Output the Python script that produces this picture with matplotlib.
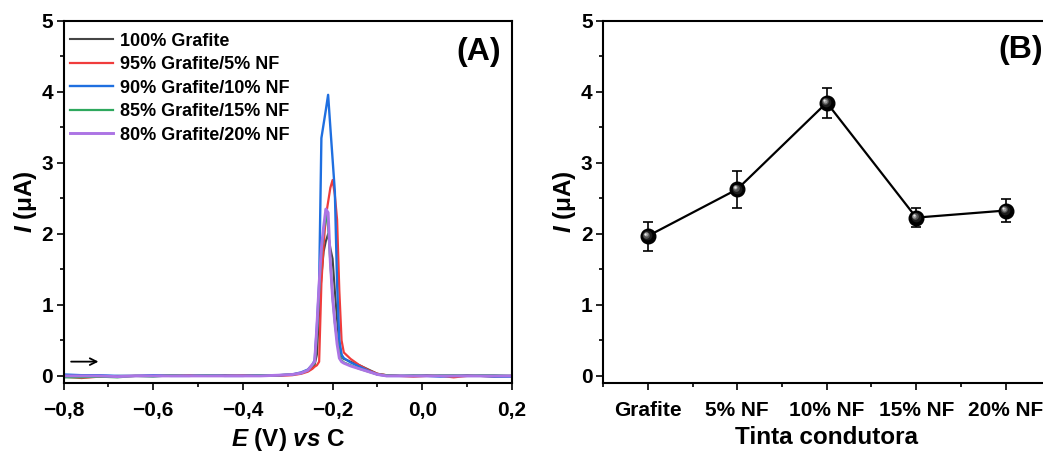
import matplotlib
matplotlib.use("Agg")
import matplotlib.pyplot as plt
from matplotlib.ticker import MultipleLocator, FixedLocator, FuncFormatter
from matplotlib.transforms import ScaledTranslation

plt.rcParams['font.family'] = ['Liberation Sans', 'DejaVu Sans']
plt.rcParams['font.weight'] = 'bold'
plt.rcParams['mathtext.fontset'] = 'custom'
plt.rcParams['mathtext.it'] = 'Liberation Sans:italic:bold'
plt.rcParams['mathtext.rm'] = 'Liberation Sans:bold'
plt.rcParams['mathtext.bf'] = 'Liberation Sans:bold'

# ---------------- data: panel A (DPV curves) ----------------
E_V = [-0.80, -0.76, -0.72, -0.68, -0.64, -0.60, -0.56, -0.52, -0.48, -0.44,
       -0.40, -0.36, -0.32,
       -0.29, -0.27, -0.255, -0.245, -0.24, -0.235, -0.23, -0.225, -0.22,
       -0.215, -0.21, -0.205, -0.20, -0.195, -0.19, -0.185, -0.18, -0.175,
       -0.16, -0.14, -0.12, -0.10,
       -0.08, -0.05, -0.02, 0.01, 0.04, 0.07, 0.10, 0.13, 0.16, 0.20]

I_100 = [0.01, 0.00, -0.01, 0.00, 0.00, 0.00, 0.01, 0.00, 0.00, 0.01, 0.00, 0.01, 0.01,
         0.02, 0.04, 0.07, 0.11, 0.16, 0.30, 0.90, 1.40, 1.75, 1.90, 2.00, 1.80, 1.65,
         1.20, 0.80, 0.45, 0.28, 0.24, 0.20, 0.15, 0.09, 0.03,
         0.01, 0.00, 0.00, 0.01, 0.00, 0.00, 0.01, 0.00, 0.00, 0.00]
I_95 = [-0.01, -0.03, -0.01, -0.01, 0.00, 0.00, 0.00, 0.01, 0.00, 0.00, 0.01, 0.01, 0.00,
        0.01, 0.03, 0.06, 0.10, 0.13, 0.15, 0.20, 1.30, 1.85, 2.25, 2.45, 2.65, 2.76,
        2.55, 2.20, 1.20, 0.50, 0.33, 0.24, 0.15, 0.08, 0.03,
        0.01, 0.00, -0.01, 0.00, 0.00, -0.02, 0.00, 0.00, -0.01, 0.00]
I_90 = [0.02, 0.01, 0.01, 0.00, 0.00, 0.01, 0.00, 0.00, 0.01, 0.00, 0.00, 0.01, 0.01,
        0.02, 0.05, 0.09, 0.16, 0.22, 0.70, 1.30, 3.35, 3.55, 3.75, 3.96, 3.50, 3.05,
        2.60, 1.30, 0.50, 0.30, 0.25, 0.19, 0.13, 0.07, 0.02,
        0.00, 0.00, 0.00, 0.00, -0.01, 0.00, 0.00, 0.00, -0.01, -0.01]
I_85 = [-0.02, -0.02, -0.01, -0.02, 0.00, -0.01, 0.01, 0.00, 0.01, 0.00, 0.00, 0.01, 0.01,
        0.02, 0.04, 0.08, 0.15, 0.18, 0.60, 1.20, 1.75, 2.05, 2.29, 2.10, 1.60, 1.10,
        0.75, 0.50, 0.30, 0.22, 0.19, 0.15, 0.10, 0.06, 0.02,
        0.01, 0.00, 0.01, 0.00, 0.01, 0.01, 0.00, 0.01, 0.01, 0.00]
I_80 = [0.00, 0.00, 0.00, -0.01, 0.00, 0.00, 0.00, 0.00, 0.00, 0.00, 0.00, 0.00, 0.01,
        0.02, 0.04, 0.08, 0.16, 0.20, 0.70, 1.30, 1.80, 2.10, 2.35, 2.30, 1.60, 1.10,
        0.75, 0.45, 0.25, 0.20, 0.18, 0.14, 0.10, 0.06, 0.02,
        0.00, 0.00, 0.00, 0.00, 0.00, 0.00, 0.00, 0.00, 0.00, 0.00]

series_labels = ['100% Grafite', '95% Grafite/5% NF', '90% Grafite/10% NF',
                 '85% Grafite/15% NF', '80% Grafite/20% NF']
series_colors = ['#454545', '#f03c3c', '#1f6fe0', '#2ea85e', '#ac74e4']

# ---------------- data: panel B ----------------
categories = ['Grafite', '5% NF', '10% NF', '15% NF', '20% NF']
I_mean = [1.97, 2.63, 3.85, 2.23, 2.33]
I_err = [0.205, 0.26, 0.21, 0.135, 0.165]

# ---------------- figure ----------------
W, H = 1043, 454
fig = plt.figure(figsize=(W / 100, H / 100), dpi=100)

axA = fig.add_axes([63.5 / W, 71 / H, 448.5 / W, 362 / H])
axB = fig.add_axes([603 / W, 71 / H, 447.5 / W, 362 / H])

TICK_FS = 15
LABEL_FS = 17.5


def style_axes(ax):
    for sp in ax.spines.values():
        sp.set_linewidth(1.5)
    ax.tick_params(which='both', direction='out', top=False, right=False,
                   labelsize=TICK_FS, width=1.2)
    ax.tick_params(which='major', length=5)
    ax.tick_params(which='minor', length=3)
    ax.tick_params(axis='x', which='major', pad=8)
    ax.tick_params(axis='y', which='major', pad=2.5)
    for lab in ax.get_xticklabels() + ax.get_yticklabels():
        lab.set_fontweight('bold')


# Panel A
curves = [I_100, I_95, I_90, I_85, I_80]
widths = [1.5, 1.6, 1.7, 1.6, 2.1]
for yv, lab, col, lw in zip(curves, series_labels, series_colors, widths):
    axA.plot(E_V, yv, color=col, lw=lw, label=lab)

axA.set_xlim(-0.8, 0.2)
axA.set_ylim(-0.1, 5)
axA.xaxis.set_major_locator(MultipleLocator(0.2))
axA.xaxis.set_minor_locator(MultipleLocator(0.1))
axA.yaxis.set_major_locator(MultipleLocator(1))
axA.yaxis.set_minor_locator(MultipleLocator(0.5))
axA.xaxis.set_major_formatter(FuncFormatter(
    lambda v, p: f"{v:.1f}".replace('.', ',').replace('-', '\u2212')
    if abs(v) > 1e-9 else "0,0"))
axA.yaxis.set_major_formatter(FuncFormatter(lambda v, p: f"{v:.0f}"))
style_axes(axA)
axA.set_xlabel(r'$E$ (V) $vs$ C', fontsize=LABEL_FS, fontweight='bold', labelpad=4.5)
axA.set_ylabel(r'$I$ (μA)', fontsize=LABEL_FS, fontweight='bold', labelpad=2)

leg = axA.legend(loc='upper left', bbox_to_anchor=(0.0145, 0.968), frameon=False,
                 fontsize=13, handlelength=2.4, handletextpad=0.35,
                 labelspacing=0.36, borderpad=0, borderaxespad=0)
for t in leg.get_texts():
    t.set_fontweight('bold')

axA.text(0.926, 0.9135, '(A)', transform=axA.transAxes, fontsize=23,
         fontweight='bold', ha='center', va='center')
axA.annotate('', xy=(0.078, 0.059), xytext=(0.017, 0.059),
             xycoords='axes fraction', textcoords='axes fraction',
             arrowprops=dict(arrowstyle='->', lw=1.3, color='black',
                             shrinkA=0, shrinkB=0, mutation_scale=12))

# Panel B
xpos = list(range(len(categories)))
axB.errorbar(xpos, I_mean, yerr=I_err, fmt='none', ecolor='black',
             elinewidth=1.2, capsize=3.4, capthick=1.2, zorder=2)
axB.plot(xpos, I_mean, color='black', lw=1.6, zorder=3)
# sphere-like markers
axB.plot(xpos, I_mean, 'o', color='black', ms=10.5, zorder=4)
shades = [(7.0, '#1c1c1c', 0.6), (4.8, '#555555', 1.3), (3.0, '#9a9a9a', 1.9),
          (1.6, '#e6e6e6', 2.3)]
for ms, col, off in shades:
    tr = axB.transData + ScaledTranslation(-off / 100, off / 100, fig.dpi_scale_trans)
    axB.plot(xpos, I_mean, 'o', color=col, ms=ms, mew=0, transform=tr, zorder=5)

axB.set_xlim(-0.5, 4.5)
axB.set_ylim(-0.1, 5)
axB.xaxis.set_major_locator(FixedLocator(xpos))
axB.xaxis.set_minor_locator(MultipleLocator(0.5))
axB.set_xticklabels(categories)
axB.yaxis.set_major_locator(MultipleLocator(1))
axB.yaxis.set_minor_locator(MultipleLocator(0.5))
axB.yaxis.set_major_formatter(FuncFormatter(lambda v, p: f"{v:.0f}"))
style_axes(axB)
axB.set_xlabel('Tinta condutora', fontsize=LABEL_FS, fontweight='bold', labelpad=4.5)
axB.set_ylabel(r'$I$ (μA)', fontsize=LABEL_FS, fontweight='bold', labelpad=2)
axB.text(0.8827, 0.92, '(B)', transform=axB.transAxes, fontsize=23,
         fontweight='bold', ha='left', va='center')

fig.savefig('out.png', dpi=100)
